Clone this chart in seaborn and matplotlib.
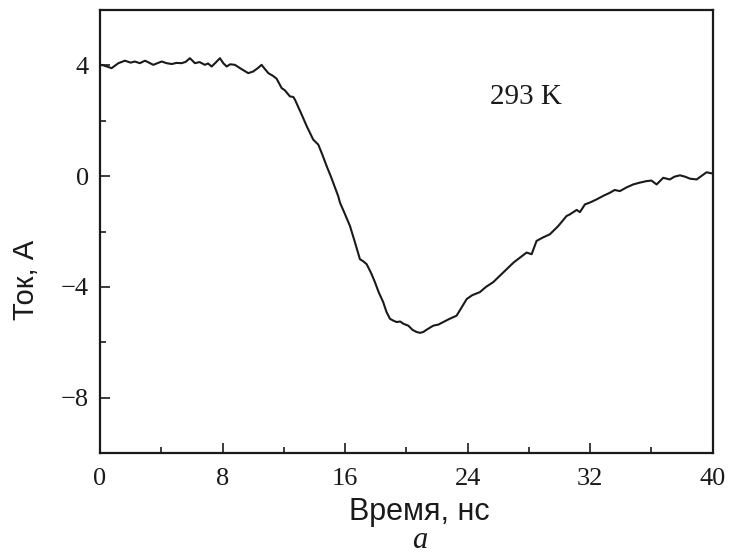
import matplotlib
matplotlib.use("Agg")
import matplotlib.pyplot as plt
from matplotlib.ticker import MultipleLocator
import seaborn as sns
import pandas as pd

# Current pulse at 293 K: time (ns) and current (A)
time_ns = [
    0.0, 0.11, 0.45, 0.76, 1.2, 1.63, 2.0, 2.28, 2.6, 2.94, 3.2, 3.48, 3.75,
    4.03, 4.35, 4.68, 5.0, 5.33, 5.6, 5.87, 6.2, 6.5, 6.85, 7.05, 7.29, 7.55,
    7.83, 8.05, 8.27, 8.5, 8.81, 9.2, 9.68, 10.0, 10.3, 10.55, 10.75, 10.99,
    11.3, 11.53, 11.86, 12.07, 12.4, 12.62, 12.73, 13.17, 13.5, 13.92, 14.25,
    14.5, 14.8, 15.1, 15.55, 15.67, 16.0, 16.32, 16.65, 16.97, 17.2, 17.41,
    17.7, 17.95, 18.2, 18.49, 18.7, 18.93, 19.15, 19.37, 19.6, 19.8, 20.13,
    20.4, 20.67, 20.9, 21.1, 21.4, 21.76, 22.1, 22.41, 22.8, 23.28, 23.6,
    23.94, 24.3, 24.8, 25.2, 25.67, 26.1, 26.55, 27.0, 27.4, 27.85, 28.18,
    28.5, 28.9, 29.37, 29.92, 30.46, 30.68, 31.12, 31.33, 31.66, 32.0, 32.42,
    32.9, 33.29, 33.6, 33.94, 34.4, 34.81, 35.2, 35.68, 36.0, 36.34, 36.77,
    37.2, 37.5, 37.86, 38.2, 38.51, 38.95, 39.3, 39.6, 39.93,
]
current_a = [
    3.98, 4.02, 3.96, 3.90, 4.08, 4.17, 4.10, 4.14, 4.08, 4.17, 4.10, 4.02, 4.08,
    4.14, 4.08, 4.05, 4.09, 4.08, 4.13, 4.26, 4.08, 4.12, 4.02, 4.07, 3.96, 4.10,
    4.26, 4.08, 3.96, 4.04, 4.02, 3.88, 3.72, 3.78, 3.90, 4.02, 3.88, 3.72,
    3.62, 3.52, 3.18, 3.10, 2.88, 2.86, 2.76, 2.22, 1.80, 1.32, 1.14,
    0.80, 0.36, -0.05, -0.72, -0.96, -1.38, -1.80, -2.40, -3.00, -3.08, -3.18,
    -3.50, -3.83, -4.20, -4.55, -4.90, -5.15, -5.22, -5.27, -5.25, -5.33, -5.40,
    -5.55, -5.63, -5.66, -5.63, -5.52, -5.40, -5.36, -5.27, -5.16, -5.04, -4.75,
    -4.44, -4.30, -4.19, -4.00, -3.83, -3.60, -3.36, -3.12, -2.95, -2.76, -2.82,
    -2.34, -2.22, -2.10, -1.80, -1.44, -1.38, -1.22, -1.30, -1.02, -0.95, -0.84,
    -0.70, -0.60, -0.50, -0.54, -0.40, -0.30, -0.24, -0.18, -0.16, -0.30, -0.06,
    -0.12, -0.02, 0.03, -0.02, -0.09, -0.12, 0.02, 0.14, 0.10,
]

x_ticks = [0, 8, 16, 24, 32, 40]
y_ticks = [4, 0, -4, -8]
y_tick_labels = ["4", "0", "\u22124", "\u22128"]

sns.set_theme(style="ticks")
plt.rcParams["font.family"] = ["Liberation Serif", "DejaVu Serif"]

df = pd.DataFrame({"t": time_ns, "i": current_a})

fig = plt.figure(figsize=(7.33, 5.57), dpi=100)
ax = fig.add_axes([0.1364, 0.1867, 0.8359, 0.7953])

sns.lineplot(data=df, x="t", y="i", ax=ax, color="#1a1a1a", linewidth=1.5,
             sort=False, estimator=None)

ax.set_xlim(0, 40)
ax.set_ylim(-10, 6)
ax.set_xticks(x_ticks)
ax.set_xticklabels([str(v) for v in x_ticks])
ax.set_yticks(y_ticks)
ax.set_yticklabels(y_tick_labels)
ax.xaxis.set_minor_locator(MultipleLocator(4))
ax.yaxis.set_minor_locator(MultipleLocator(2))

ax.tick_params(axis="both", which="both", direction="in", top=False,
               right=False, colors="#1a1a1a", labelsize=19)
ax.tick_params(axis="both", which="major", length=7, width=1.2)
ax.tick_params(axis="both", which="minor", length=4.5, width=1.2)
ax.tick_params(axis="x", which="major", pad=11)
ax.tick_params(axis="y", which="major", pad=8)

for side in ax.spines.values():
    side.set_linewidth(1.6)
    side.set_color("#1a1a1a")

label_font = ["Liberation Sans", "DejaVu Sans"]
ax.set_xlabel("Время, нс", fontsize=22, family=label_font, color="#1a1a1a")
ax.set_ylabel("Ток, А", fontsize=21, family=label_font, color="#1a1a1a")
ax.xaxis.label.set_va("center")
ax.yaxis.label.set_va("center")
ax.xaxis.set_label_coords(0.5214, -0.134)
ax.yaxis.set_label_coords(-0.121, 0.39)

ax.text(27.8, 2.85, "293 K", fontsize=21, ha="center", va="center",
        color="#1a1a1a")
ax.text(0.5214, -0.2145, "a", transform=ax.transAxes, fontsize=22,
        style="italic", ha="center", va="baseline", color="#1a1a1a")

fig.savefig("out.png", dpi=100, facecolor="white")
